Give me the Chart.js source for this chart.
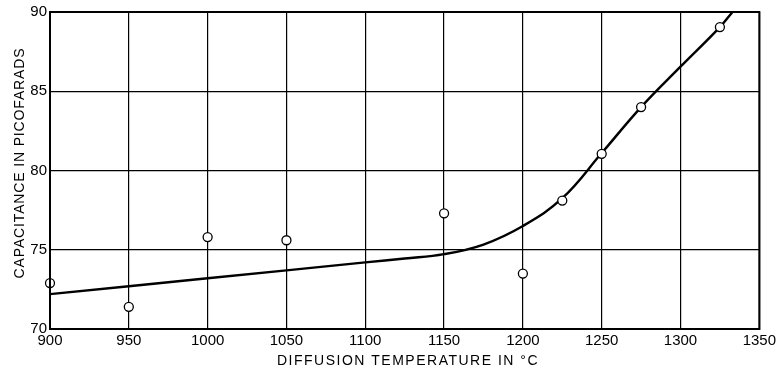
<!DOCTYPE html>
<html><head><meta charset="utf-8">
<script src="https://cdn.jsdelivr.net/npm/chart.js@4"></script>
<style>html,body{margin:0;padding:0;background:#fff}#wrap{width:779px;height:370px}</style>
</head><body><div id="wrap"><canvas id="c" width="779" height="370"></canvas></div>
<script>
const measuredTemps = [900, 950, 1000, 1050, 1150, 1200, 1225, 1250, 1275, 1325];
const measuredCap = [72.9, 71.4, 75.8, 75.6, 77.3, 73.5, 78.1, 81.05, 84.0, 89.05];
const curveTemps = [900, 1000, 1100, 1125, 1150, 1175, 1200, 1225, 1250, 1275, 1300, 1325, 1333];
const curveCap = [72.2, 73.2, 74.2, 74.45, 74.72, 75.33, 76.5, 78.25, 81.1, 84.0, 86.55, 89.05, 90.0];
const xTicks = [900, 950, 1000, 1050, 1100, 1150, 1200, 1250, 1300, 1350];
const yTicks = [70, 75, 80, 85, 90];
const xTitle = 'DIFFUSION TEMPERATURE IN °C';
const yTitle = 'CAPACITANCE IN PICOFARADS';

const font = "'Liberation Sans', Arial, sans-serif";
new Chart(document.getElementById('c'), {
  type: 'scatter',
  data: { datasets: [
    { data: measuredTemps.map((x,i)=>({x, y: measuredCap[i]})), showLine:false, clip:false,
      pointRadius:4.5, pointBackgroundColor:'#fff', pointBorderColor:'#000', pointBorderWidth:1.3, order:0 },
    { data: curveTemps.map((x,i)=>({x, y: curveCap[i]})), showLine:true, borderColor:'#000', borderWidth:2.4,
      pointRadius:0, tension:0.4, fill:false, order:1 }
  ]},
  options: {
    responsive:false, animation:false,
    layout:{padding:{top:12, right:19, left:0, bottom:0}},
    plugins:{legend:{display:false}, tooltip:{enabled:false}},
    scales:{
      x:{ type:'linear', min:900, max:1350,
        afterBuildTicks:(s)=>{s.ticks = xTicks.map(v=>({value:v}));},
        afterFit:(s)=>{s.height = 41;},
        grid:{color:'#000', lineWidth:1.2, drawTicks:false},
        border:{color:'#000', width:2},
        ticks:{color:'#000', font:{family:font, size:15}, padding:3, maxRotation:0, callback:(v)=>String(v)}
      },
      y:{ type:'linear', min:70, max:90,
        afterBuildTicks:(s)=>{s.ticks = yTicks.map(v=>({value:v}));},
        afterFit:(s)=>{s.width = 50;},
        grid:{color:'#000', lineWidth:1.2, drawTicks:false},
        border:{color:'#000', width:2},
        ticks:{color:'#000', font:{family:font, size:15}, padding:3, callback:(v)=>String(v)}
      }
    }
  },
  plugins:[{id:'frame', afterDraw(c){
    const a=c.chartArea, x=c.ctx; x.save();
    x.strokeStyle='#000'; x.lineWidth=2; x.strokeRect(a.left,a.top,a.right-a.left,a.bottom-a.top);
    x.fillStyle='#000'; x.font='14px '+font; x.textAlign='center'; x.textBaseline='middle';
    x.letterSpacing='1.5px';
    x.fillText(xTitle, 408, 361);
    x.translate(20, 163); x.rotate(-Math.PI/2); x.letterSpacing='0.85px';
    x.fillText(yTitle, 0, 0);
    x.restore();}}]
});
</script></body></html>
